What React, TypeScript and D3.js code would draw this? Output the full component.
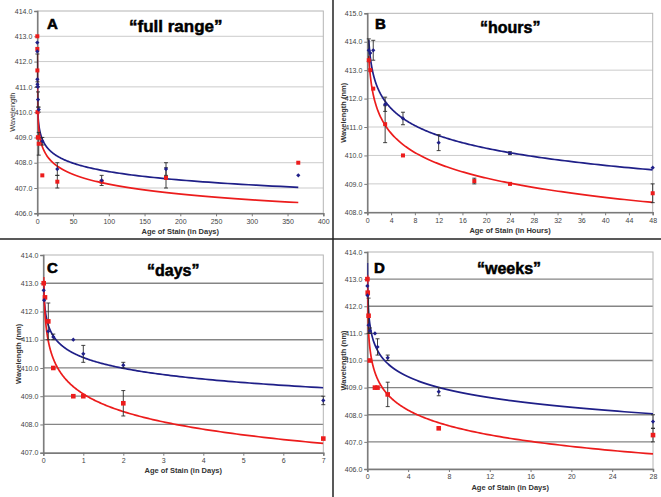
import { useEffect, useRef } from "react";
import * as d3 from "d3";

// age in days (panels A, C, D share one data set)
const dayBlueX = [0.01, 0.02, 0.125, 0.25, 0.75, 1, 2, 7, 28, 90, 180, 365];
const dayBlueY = [412.75, 412.4, 411.3, 411.1, 411.0, 410.5, 410.1, 408.85, 407.75, 407.3, 407.75, 407.5];
const dayBlueErr = [0, 0, 0, 0.1, 0, 0.3, 0.1, 0.15, 0.25, 0.2, 0.25, 0];
const dayRedX = [0.01, 0.042, 0.125, 0.25, 0.75, 1, 2, 7, 28, 90, 180, 365];
const dayRedY = [413.0, 412.5, 411.65, 410.0, 409.0, 409.0, 408.75, 407.5, 407.25, 407.25, 407.4, 408.0];
const dayRedErr = [0, 0, 0.65, 0, 0, 0, 0.45, 0, 0.25, 0, 0.4, 0];

// age in hours (panel B)
const hrBlueX = [0.25, 0.5, 1, 3, 6, 12, 24, 48];
const hrBlueY = [413.7, 413.6, 413.7, 411.8, 411.3, 410.45, 410.08, 409.57];
const hrBlueErr = [0.4, 0, 0.35, 0.25, 0.22, 0.28, 0.05, 0];
const hrRedX = [0.25, 0.5, 1, 3, 6, 18, 24, 48];
const hrRedY = [413.35, 413.0, 412.35, 411.1, 410.0, 409.1, 409.0, 408.67];
const hrRedErr = [0, 0, 0, 0.65, 0, 0.1, 0, 0.33];

// logarithmic trendlines y = a - b*ln(x), per panel [a, b]
const trendBlue = { A: [409.86, 0.48], B: [412.86, 0.87], C: [410.37, 0.55], D: [410.37, 0.7] };
const trendRed = { A: [409.73, 0.56], B: [412.14, 0.98], C: [409.08, 0.9], D: [409.32, 0.83] };

const panelLetters = ["A", "B", "C", "D"];
const panelTitles = ["\u201cfull range\u201d", "\u201chours\u201d", "\u201cdays\u201d", "\u201cweeks\u201d"];
const xTitles = ["Age of Stain (in Days)", "Age of Stain (in Hours)", "Age of Stain (in Days)", "Age of Stain (in Days)"];
const yTitles = ["Wavelength", "Wavelength (nm)", "Wavelength (nm)", "Wavelength (nm)"];
const xTicks = [d3.range(0, 401, 50), d3.range(0, 49, 4), d3.range(0, 8, 1), d3.range(0, 29, 4)];
const yTicks = [d3.range(406, 415), d3.range(408, 416), d3.range(407, 415), d3.range(406, 415)];
const xMax = [365, 48, 7, 28];

const zip = (xs, ys, es) => xs.map((x, i) => ({ x, y: ys[i], e: es[i] }));
const upTo = (arr, max) => arr.filter((d) => d.x <= max);

const blueDays = zip(dayBlueX, dayBlueY, dayBlueErr);
const redDays = zip(dayRedX, dayRedY, dayRedErr);

const panels = [
  { left: 37.3, right: 323.3, top: 11, bottom: 213.3, yLab: 12, dark: false,
    blue: blueDays, red: redDays, letter: [47, 29], title: [129, 32], titleSize: 17 },
  { left: 367.3, right: 652.7, top: 13.3, bottom: 212.3, yLab: 343, dark: false,
    blue: zip(hrBlueX, hrBlueY, hrBlueErr), red: zip(hrRedX, hrRedY, hrRedErr),
    letter: [375, 29], title: [480, 33], titleSize: 16 },
  { left: 43.3, right: 323.3, top: 255, bottom: 452.7, yLab: 18, dark: true,
    blue: upTo(blueDays, 7), red: upTo(redDays, 7), letter: [47, 273], title: [147, 276], titleSize: 16 },
  { left: 367.3, right: 653, top: 252, bottom: 469, yLab: 343, dark: true,
    blue: upTo(blueDays, 28), red: upTo(redDays, 28), letter: [374, 273], title: [477, 274], titleSize: 16 },
];

const BLUE = "#1f1f88";
const RED = "#ec1c1c";
const FONT = "Liberation Sans, Arial, sans-serif";

const App = () => {
  const svgRef = useRef(null);

  useEffect(() => {
    const svg = d3.select(svgRef.current);
    svg.selectAll("*").remove();
    const defs = svg.append("defs");

    panels.forEach((p, i) => {
      const key = panelLetters[i];
      const yt = yTicks[i];
      const xt = xTicks[i];
      const x = d3.scaleLinear().domain([xt[0], xt[xt.length - 1]]).range([p.left, p.right]);
      const y = d3.scaleLinear().domain([yt[0], yt[yt.length - 1]]).range([p.bottom, p.top]);
      const g = svg.append("g");

      defs
        .append("clipPath")
        .attr("id", `clip-${key}`)
        .append("rect")
        .attr("x", p.left)
        .attr("y", p.top)
        .attr("width", p.right - p.left)
        .attr("height", p.bottom - p.top);

      // gridlines
      g.selectAll(".grid")
        .data(yt.slice(1, -1))
        .enter()
        .append("line")
        .attr("x1", p.left)
        .attr("x2", p.right)
        .attr("y1", (d) => y(d))
        .attr("y2", (d) => y(d))
        .attr("stroke", p.dark ? "#858585" : "#cbcbcb")
        .attr("stroke-width", p.dark ? 1.3 : 1);

      // plot border
      g.append("rect")
        .attr("x", p.left)
        .attr("y", p.top)
        .attr("width", p.right - p.left)
        .attr("height", p.bottom - p.top)
        .attr("fill", "none")
        .attr("stroke", "#b4b4b4")
        .attr("stroke-width", 1);

      // axes
      const xAxis = g
        .append("g")
        .attr("transform", `translate(0,${p.bottom})`)
        .call(d3.axisBottom(x).tickValues(xt).tickSize(3).tickPadding(2.5).tickFormat(d3.format("d")));
      const yAxis = g
        .append("g")
        .attr("transform", `translate(${p.left},0)`)
        .call(d3.axisLeft(y).tickValues(yt).tickSize(3).tickPadding(2).tickFormat(d3.format(".1f")));
      [xAxis, yAxis].forEach((ax) => {
        ax.select(".domain").attr("stroke", "#7a7a7a").attr("stroke-width", 1.5);
        ax.selectAll(".tick line").attr("stroke", "#7a7a7a");
        ax.selectAll(".tick text").attr("fill", "#444").attr("font-size", 7).attr("font-family", FONT);
      });

      // axis titles
      g.append("text")
        .attr("x", (p.left + p.right) / 2)
        .attr("y", p.bottom + 20.5)
        .attr("text-anchor", "middle")
        .attr("font-size", 7.5)
        .attr("font-weight", "bold")
        .attr("font-family", FONT)
        .attr("fill", "#333")
        .text(xTitles[i]);
      g.append("text")
        .attr("transform", `translate(${p.yLab},${(p.top + p.bottom) / 2}) rotate(-90)`)
        .attr("dy", "0.35em")
        .attr("text-anchor", "middle")
        .attr("font-size", 7.5)
        .attr("font-weight", i === 0 ? "normal" : "bold")
        .attr("font-family", FONT)
        .attr("fill", "#333")
        .text(yTitles[i]);

      // trendlines (clipped to the plot area)
      const plot = g.append("g").attr("clip-path", `url(#clip-${key})`);
      [
        [trendBlue[key], BLUE, p.blue[0].x],
        [trendRed[key], RED, p.red[0].x],
      ].forEach(([[a, b], color, x0]) => {
        const xs = d3.range(0, 301).map((k) => x0 * Math.pow(xMax[i] / x0, k / 300));
        plot
          .append("path")
          .datum(xs)
          .attr("fill", "none")
          .attr("stroke", color)
          .attr("stroke-width", 1.7)
          .attr("d", d3.line().x((d) => x(d)).y((d) => y(a - b * Math.log(d))));
      });

      // error bars
      const errs = [...p.blue, ...p.red].filter((d) => d.e > 0);
      const eb = g.append("g").attr("stroke", "#2a2a2a").attr("stroke-width", 0.9);
      errs.forEach((d) => {
        const cx = x(d.x);
        eb.append("line").attr("x1", cx).attr("x2", cx).attr("y1", y(d.y - d.e)).attr("y2", y(d.y + d.e));
        [d.y - d.e, d.y + d.e].forEach((v) =>
          eb.append("line").attr("x1", cx - 2).attr("x2", cx + 2).attr("y1", y(v)).attr("y2", y(v))
        );
      });

      // markers
      const sq = p.dark ? 4.6 : 4;
      g.selectAll(".red")
        .data(p.red)
        .enter()
        .append("rect")
        .attr("x", (d) => x(d.x) - sq / 2)
        .attr("y", (d) => y(d.y) - sq / 2)
        .attr("width", sq)
        .attr("height", sq)
        .attr("fill", RED);
      g.selectAll(".blue")
        .data(p.blue)
        .enter()
        .append("path")
        .attr("d", d3.symbol(d3.symbolSquare, 9))
        .attr("transform", (d) => `translate(${x(d.x)},${y(d.y)}) rotate(45)`)
        .attr("fill", BLUE);

      // panel letter and title
      g.append("text")
        .attr("x", p.letter[0])
        .attr("y", p.letter[1])
        .attr("font-size", 15)
        .attr("font-weight", "bold")
        .attr("font-family", FONT)
        .attr("fill", "#000")
        .attr("stroke", "#000")
        .attr("stroke-width", 0.6)
        .text(key);
      g.append("text")
        .attr("x", p.title[0])
        .attr("y", p.title[1])
        .attr("font-size", p.titleSize)
        .attr("font-weight", "bold")
        .attr("font-family", FONT)
        .attr("fill", "#000")
        .attr("stroke", "#000")
        .attr("stroke-width", 0.5)
        .text(panelTitles[i]);
    });

    // quadrant dividers
    svg.append("line").attr("x1", 333).attr("x2", 333).attr("y1", 0).attr("y2", 497)
      .attr("stroke", "#222").attr("stroke-width", 1.5);
    svg.append("line").attr("x1", 0).attr("x2", 661).attr("y1", 239).attr("y2", 239)
      .attr("stroke", "#222").attr("stroke-width", 1.5);
  }, []);

  return (
    <svg
      ref={svgRef}
      width={661}
      height={497}
      style={{ position: "absolute", left: 0, top: 0, background: "#fff" }}
    />
  );
};

export default App;
